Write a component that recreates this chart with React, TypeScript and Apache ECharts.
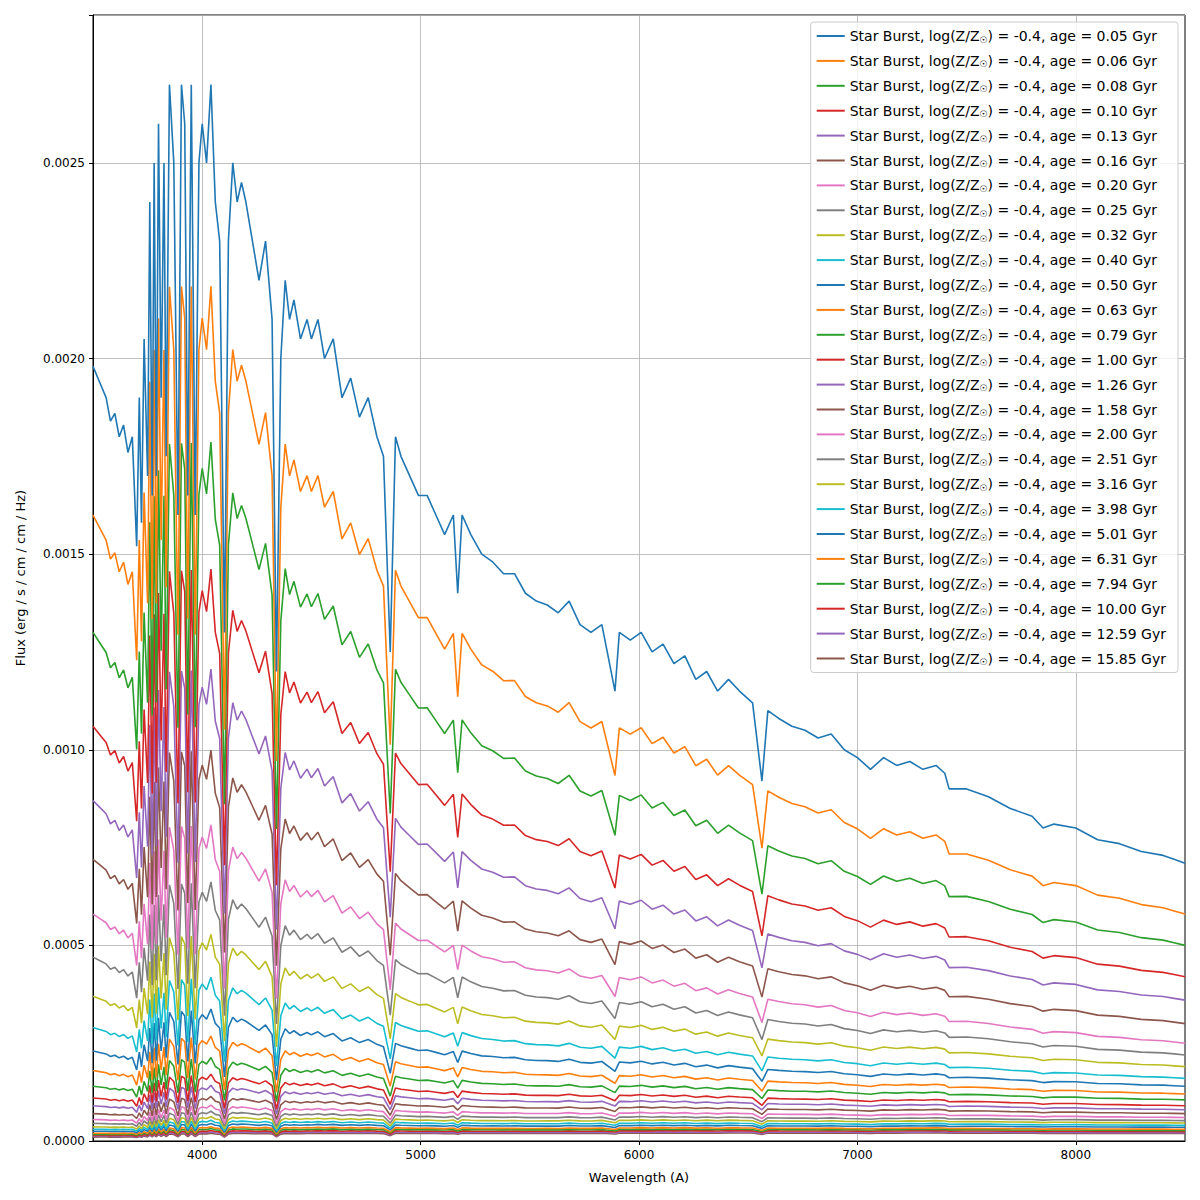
import { useEffect, useRef } from 'react';
import * as echarts from 'echarts';

// reference spectrum (youngest burst), wavelength in A, flux
const baseSpectrum: number[][] = [
  [3500, 0.00198], [3530, 0.00194], [3560, 0.0019], [3580, 0.00184], [3600, 0.00186], [3620, 0.0018],
  [3640, 0.00183], [3660, 0.00176], [3680, 0.0018], [3700, 0.00152], [3712, 0.0019], [3722, 0.00158],
  [3734, 0.00205], [3750, 0.0017], [3760, 0.0024], [3771, 0.00165], [3780, 0.0025], [3790, 0.0017],
  [3800, 0.0026], [3812, 0.0019], [3825, 0.0025], [3835, 0.00175], [3850, 0.0027], [3870, 0.0025],
  [3889, 0.0016], [3905, 0.0027], [3920, 0.0026], [3934, 0.00165], [3950, 0.0027], [3968, 0.0016],
  [3985, 0.0025], [4000, 0.0026], [4020, 0.0025], [4040, 0.0027], [4060, 0.0024], [4080, 0.0023],
  [4102, 0.0013], [4120, 0.0023], [4140, 0.0025], [4160, 0.0024], [4180, 0.00245], [4200, 0.0024],
  [4230, 0.0023], [4260, 0.0022], [4290, 0.0023], [4320, 0.0021], [4340, 0.0012], [4360, 0.002],
  [4380, 0.0022], [4400, 0.0021], [4420, 0.00215], [4450, 0.00205], [4480, 0.0021], [4500, 0.00205],
  [4530, 0.0021], [4560, 0.002], [4600, 0.00205], [4640, 0.0019], [4680, 0.00195], [4720, 0.00185],
  [4760, 0.0019], [4800, 0.0018], [4830, 0.00175], [4861, 0.00125], [4885, 0.0018], [4910, 0.00175],
  [4950, 0.0017], [4990, 0.00165], [5030, 0.00165], [5070, 0.0016], [5110, 0.00155], [5150, 0.0016],
  [5170, 0.0014], [5190, 0.0016], [5230, 0.00155], [5280, 0.0015], [5330, 0.00148], [5380, 0.00145],
  [5430, 0.00145], [5480, 0.0014], [5530, 0.00138], [5580, 0.00137], [5630, 0.00135], [5680, 0.00138],
  [5730, 0.00132], [5780, 0.0013], [5830, 0.00132], [5890, 0.00115], [5910, 0.0013], [5960, 0.00128],
  [6010, 0.0013], [6060, 0.00125], [6110, 0.00127], [6160, 0.00122], [6210, 0.00124], [6260, 0.00118],
  [6310, 0.0012], [6360, 0.00115], [6410, 0.00118], [6460, 0.00115], [6520, 0.00112], [6563, 0.00092],
  [6590, 0.0011], [6640, 0.00108], [6700, 0.00106], [6760, 0.00105], [6820, 0.00103], [6880, 0.00104],
  [6940, 0.001], [7000, 0.00098], [7060, 0.00095], [7120, 0.00098], [7180, 0.00096], [7240, 0.00097],
  [7300, 0.00095], [7360, 0.00096], [7400, 0.00094], [7420, 0.0009], [7500, 0.0009], [7600, 0.00088],
  [7700, 0.00085], [7800, 0.00083], [7850, 0.0008], [7900, 0.00081], [8000, 0.0008], [8100, 0.00077],
  [8200, 0.00076], [8300, 0.00074], [8400, 0.00073], [8450, 0.00072], [8500, 0.00071],
];

const ages = ['0.05', '0.06', '0.08', '0.10', '0.13', '0.16', '0.20', '0.25', '0.32', '0.40', '0.50', '0.63',
  '0.79', '1.00', '1.26', '1.58', '2.00', '2.51', '3.16', '3.98', '5.01', '6.31', '7.94', '10.00', '12.59', '15.85'];

// flux of each spectrum at 3500 A and at 8500 A
const fluxBlue = [0.00198, 0.0016, 0.0013, 0.00106, 0.00087, 0.00072, 0.00058, 0.00047, 0.00037, 0.00029,
  0.00023, 0.00018, 0.00014, 0.00011, 0.00009, 0.00007, 0.000055, 0.000045, 0.000036, 0.00003, 0.000025,
  0.00002, 0.000017, 0.000014, 0.000012, 0.00001];
const fluxRed = [0.00071, 0.00058, 0.0005, 0.00042, 0.00036, 0.0003, 0.00025, 0.00022, 0.00019, 0.00016,
  0.00014, 0.00012, 0.000105, 0.00009, 0.00008, 0.00007, 0.00006, 0.000052, 0.000046, 0.00004, 0.000035,
  0.00003, 0.000027, 0.000024, 0.000021, 0.000019];

const xTicks = [4000, 5000, 6000, 7000, 8000];

const colors = ['#1f77b4', '#ff7f0e', '#2ca02c', '#d62728', '#9467bd', '#8c564b', '#e377c2', '#7f7f7f', '#bcbd22', '#17becf'];

export default function App() {
  const ref = useRef<HTMLDivElement>(null);

  useEffect(() => {
    document.body.style.margin = '0';
    if (!ref.current) return;
    const chart = echarts.init(ref.current, null, { renderer: 'svg' });
    const f = 'DejaVu Sans';

    const series = ages.map((age, i) => {
      const sb = fluxBlue[i] / fluxBlue[0];
      const sr = fluxRed[i] / fluxRed[0];
      return {
        name: `Star Burst, log(Z/Z{s|☉}) = -0.4, age = ${age} Gyr`,
        type: 'line',
        showSymbol: false,
        symbol: 'none',
        lineStyle: { width: 1.6, color: colors[i % 10] },
        itemStyle: { color: colors[i % 10] },
        z: 30 - i,
        data: baseSpectrum.map(([w, v]) => [w, v * (sb + (sr - sb) * (w - 3500) / 5000)]),
      };
    });

    chart.setOption({
      animation: false,
      grid: { left: 93, right: 15, top: 15, bottom: 59, show: true, borderColor: '#000', borderWidth: 1 },
      legend: {
        orient: 'vertical',
        right: 22,
        top: 22,
        itemGap: 8.9,
        itemWidth: 28,
        itemHeight: 16,
        backgroundColor: 'rgba(255,255,255,0.8)',
        borderColor: '#ccc',
        borderWidth: 1,
        borderRadius: 3,
        padding: [6, 12, 6, 6],
        icon: 'path://M0,7 L28,7 L28,9 L0,9 Z',
        textStyle: {
          fontFamily: f, fontSize: 14, color: '#000', lineHeight: 16,
          rich: { s: { fontFamily: f, fontSize: 9, verticalAlign: 'bottom', padding: [7, 0, 0, 0] } },
        },
      },
      xAxis: {
        type: 'value', min: 3500, max: 8500,
        name: 'Wavelength (A)', nameLocation: 'middle', nameGap: 30,
        nameTextStyle: { fontFamily: f, fontSize: 13, color: '#000' },
        axisLine: { onZero: false, lineStyle: { color: '#000' } },
        axisTick: { customValues: xTicks, length: 4, lineStyle: { color: '#000' } },
        axisLabel: {
          customValues: xTicks, fontFamily: f, fontSize: 12, color: '#000',
          formatter: (v: number) => String(v),
        },
        splitLine: { show: true, lineStyle: { color: '#b0b0b0', width: 0.8 } },
      },
      yAxis: {
        type: 'value', min: 0, max: 0.002878, interval: 0.0005,
        name: 'Flux (erg / s / cm / cm / Hz)', nameLocation: 'middle', nameGap: 66,
        nameTextStyle: { fontFamily: f, fontSize: 13, color: '#000' },
        axisLine: { show: true, lineStyle: { color: '#000' } },
        axisTick: { show: true, length: 4, lineStyle: { color: '#000' } },
        axisLabel: {
          fontFamily: f, fontSize: 12, color: '#000',
          formatter: (v: number) => (v > 0.00287 ? '' : v.toFixed(4)),
        },
        splitLine: { show: true, lineStyle: { color: '#b0b0b0', width: 0.8 } },
      },
      series,
    });

    return () => chart.dispose();
  }, []);

  return <div ref={ref} style={{ width: 1200, height: 1200 }} />;
}
